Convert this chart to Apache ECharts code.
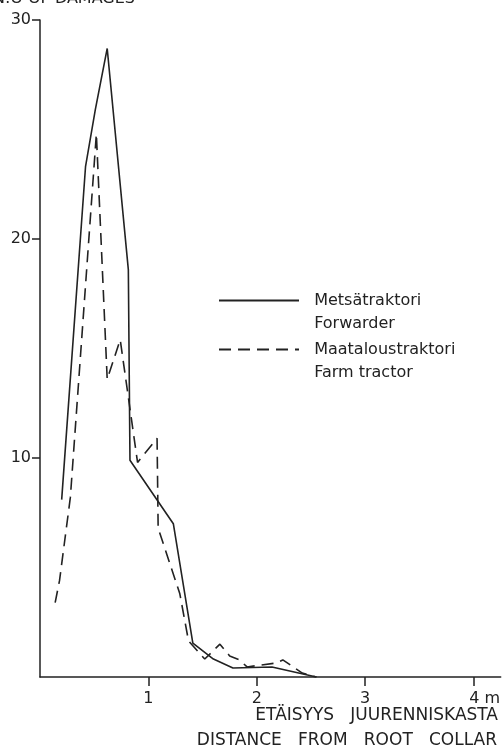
<!DOCTYPE html>
<html>
<head>
<meta charset="utf-8">
<script src="https://cdn.jsdelivr.net/npm/echarts@6/dist/echarts.min.js"></script>
<style>
html,body{margin:0;padding:0;background:#fff;}
#chart{width:503px;height:748px;}
</style>
</head>
<body>
<div id="chart"></div>
<script>
// Distance from root collar (m) and number of damages
const forwarderX = [0.20, 0.42, 0.51, 0.62, 0.815, 0.83, 1.23, 1.41, 1.60, 1.78, 2.14, 2.55];
const forwarderY = [8.1, 23.3, 25.9, 28.7, 18.6, 9.9, 7.0, 1.55, 0.82, 0.41, 0.46, 0];
const farmX = [0.14, 0.18, 0.28, 0.52, 0.62, 0.74, 0.90, 1.08, 1.09, 1.29, 1.37, 1.52, 1.66, 1.75, 1.84, 1.91, 2.18, 2.24, 2.42, 2.55];
const farmY = [3.4, 4.4, 8.2, 24.8, 13.6, 15.4, 9.8, 10.9, 6.8, 3.8, 1.65, 0.82, 1.5, 0.96, 0.78, 0.46, 0.64, 0.78, 0.18, 0];
const xTicks = [1, 2, 3, 4];
const yTicks = [10, 20, 30];
const seriesNames = ['Metsätraktori', 'Maataloustraktori'];
const seriesSub = ['Forwarder', 'Farm tractor'];
const yTitle = 'N:O OF DAMAGES';
const xTitle1 = 'ETÄISYYS   JUURENNISKASTA';
const xTitle2 = 'DISTANCE   FROM   ROOT   COLLAR';

const FONT = '"DejaVu Sans", sans-serif';
const INK = '#222';

const zip = (xs, ys) => xs.map((x, i) => [x, ys[i]]);

const chart = echarts.init(document.getElementById('chart'), null, {renderer: 'canvas'});
const legendBase = {
  orient: 'vertical', left: 218, padding: 0, itemWidth: 80, itemHeight: 14,
  selectedMode: false,
  itemStyle: {opacity: 0},
  textStyle: {fontFamily: FONT, fontSize: 16, lineHeight: 23, color: INK}
};
chart.setOption({
  animation: false,
  backgroundColor: '#fff',
  grid: {left: 40, right: 2, top: 20, bottom: 71},
  xAxis: {
    type: 'value', min: 0, max: 4.25, interval: 1,
    splitLine: {show: false},
    axisLine: {lineStyle: {color: INK, width: 1.5}},
    axisTick: {show: true, length: 9, customValues: xTicks, lineStyle: {color: INK, width: 1.5}},
    axisLabel: {
      customValues: xTicks, margin: 14, color: INK, fontFamily: FONT, fontSize: 16,
      formatter: v => v === 4 ? '{m|4 m}' : String(v),
      rich: {m: {padding: [0, 0, 0, 22], fontFamily: FONT, fontSize: 16, color: INK}}
    }
  },
  yAxis: {
    type: 'value', min: 0, max: 30, interval: 10,
    splitLine: {show: false},
    axisLine: {lineStyle: {color: INK, width: 1.5}},
    axisTick: {show: true, length: 8, customValues: yTicks, lineStyle: {color: INK, width: 1.5}},
    axisLabel: {customValues: yTicks, margin: 9, color: INK, fontFamily: FONT, fontSize: 16}
  },
  legend: [
    Object.assign({}, legendBase, {
      top: 266, data: [seriesNames[0]],
      formatter: () => ' \n  ' + seriesNames[0] + '\n  ' + seriesSub[0]
    }),
    Object.assign({}, legendBase, {
      top: 315, data: [seriesNames[1]],
      formatter: () => ' \n  ' + seriesNames[1] + '\n  ' + seriesSub[1]
    })
  ],
  graphic: [
    {type: 'text', x: 135, y: 7, style: {text: yTitle, fill: INK, font: '16px ' + FONT, align: 'right', textAlign: 'right', verticalAlign: 'bottom', textVerticalAlign: 'bottom'}},
    {type: 'text', x: 498, y: 716, style: {text: xTitle1, fill: INK, font: '17px ' + FONT, align: 'right', textAlign: 'right', verticalAlign: 'middle', textVerticalAlign: 'middle'}},
    {type: 'text', x: 497, y: 741, style: {text: xTitle2, fill: INK, font: '17px ' + FONT, align: 'right', textAlign: 'right', verticalAlign: 'middle', textVerticalAlign: 'middle'}}
  ],
  series: [
    {
      name: seriesNames[0], type: 'line', symbol: 'none', data: zip(forwarderX, forwarderY),
      itemStyle: {color: INK},
      lineStyle: {color: INK, width: 1.6, type: 'solid'}
    },
    {
      name: seriesNames[1], type: 'line', symbol: 'none', data: zip(farmX, farmY),
      itemStyle: {color: INK},
      lineStyle: {color: INK, width: 1.6, type: [12, 7]}
    }
  ]
});
</script>
</body>
</html>
